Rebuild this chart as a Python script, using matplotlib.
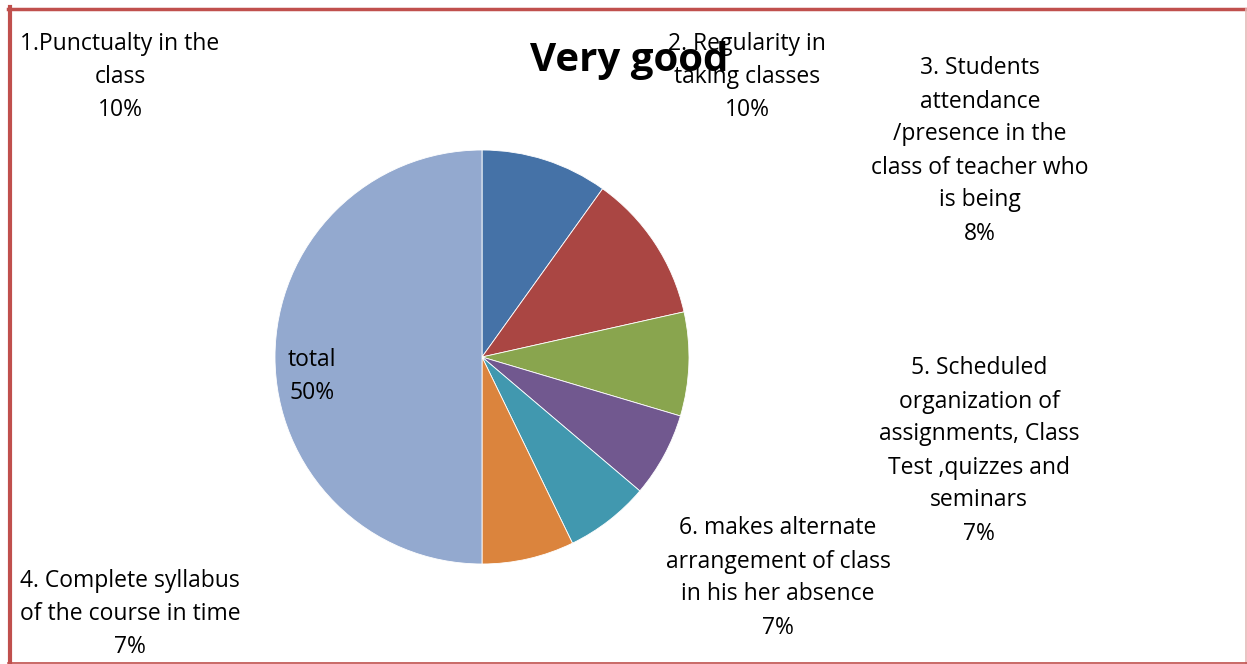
import matplotlib.pyplot as plt
from matplotlib.lines import Line2D

# slice order clockwise from 12 o'clock
categories = ["1.Punctualty in the\nclass",
              "2. Regularity in\ntaking classes",
              "3. Students\nattendance\n/presence in the\nclass of teacher who\nis being",
              "5. Scheduled\norganization of\nassignments, Class\nTest ,quizzes and\nseminars",
              "6. makes alternate\narrangement of class\nin his her absence",
              "4. Complete syllabus\nof the course in time",
              "total"]
values = [9.9, 11.6, 8.1, 6.6, 6.6, 7.2, 50.0]
pct_labels = ["10%", "10%", "8%", "7%", "7%", "7%", "50%"]
colors = ["#4572A7", "#AA4643", "#89A54E", "#71588F", "#4198AF", "#DB843D", "#93A9CF"]

# manually placed label centers (pixels) like the original chart
label_pos = [(120, 77), (747, 77), (980, 151), (979, 451), (778, 578), (130, 614), (312, 376)]

W, H = 1247, 664
fig = plt.figure(figsize=(W / 100, H / 100), dpi=100)
plt.rcParams['font.family'] = ['Open Sans', 'DejaVu Sans']

cx, cy, r = 482, 357, 207
ax = fig.add_axes([(cx - r) / W, (H - cy - r) / H, 2 * r / W, 2 * r / H])
ax.pie(values, colors=colors, startangle=90, counterclock=False, radius=1,
       wedgeprops=dict(edgecolor="white", linewidth=0.6))
ax.set_xlim(-1, 1)
ax.set_ylim(-1, 1)
ax.set_aspect("equal")
ax.axis("off")

fig.text(629 / W, 1 - 60 / H, "Very good", ha="center", va="center",
         fontsize=29, fontweight="bold")

for cat, pct, (x, y) in zip(categories, pct_labels, label_pos):
    fig.text(x / W, 1 - y / H, cat + "\n" + pct, ha="center", va="center",
             fontsize=16.5, linespacing=1.5, color="black")

# frame lines
border = "#C0504D"
fig.add_artist(Line2D([10 / W, 10 / W], [0, 1 - 7 / H], color=border, linewidth=3))
fig.add_artist(Line2D([8 / W, 1], [1 - 8.5 / H, 1 - 8.5 / H], color=border, linewidth=2.5))
fig.add_artist(Line2D([1246 / W, 1246 / W], [0, 1 - 9 / H], color="#E6B9B8", linewidth=1.2))
fig.add_artist(Line2D([8 / W, 1], [1 / H, 1 / H], color=border, linewidth=1.2))

fig.savefig("out.png", dpi=100)
